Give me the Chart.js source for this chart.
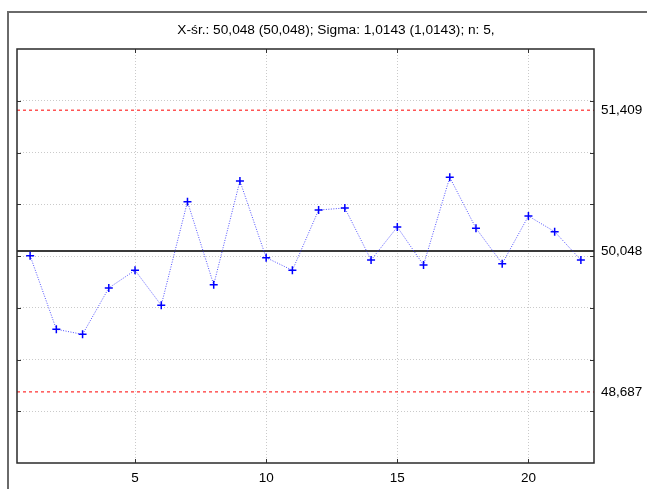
<!DOCTYPE html>
<html>
<head>
<meta charset="utf-8">
<script src="https://cdn.jsdelivr.net/npm/chart.js@4.4.1/dist/chart.umd.min.js"></script>
<style>
html,body{margin:0;padding:0;background:#fff;}
#wrap{width:647px;height:489px;position:relative;}
</style>
</head>
<body>
<div id="wrap"><canvas id="c" width="647" height="489"></canvas></div>
<script>
const titleText = "X-śr.: 50,048 (50,048); Sigma: 1,0143 (1,0143); n: 5,";
const samples = [1,2,3,4,5,6,7,8,9,10,11,12,13,14,15,16,17,18,19,20,21,22];
const means = [50.003,49.292,49.243,49.691,49.862,49.524,50.525,49.723,50.725,49.984,49.862,50.444,50.464,49.961,50.280,49.913,50.760,50.268,49.926,50.386,50.235,49.961];
const centerLine = 50.048;
const upperLimit = 51.409;
const lowerLimit = 48.687;
const xTicks = [5,10,15,20];
const yGrid = [48.5,49,49.5,50,50.5,51,51.5];
const limitLabels = [lowerLimit, centerLine, upperLimit];
const xRange = [0.5, 22.5];
const yRange = [48, 52];

const FONT = "'Liberation Sans', Arial, sans-serif";

const hLine = v => [{x:xRange[0], y:v},{x:xRange[1], y:v}];

const decor = {
  id:'decor',
  beforeDraw(chart){
    const ctx = chart.ctx;
    ctx.save();
    ctx.fillStyle='#fff';
    ctx.fillRect(0,0,chart.width,chart.height);
    ctx.strokeStyle='#6a6a6a';
    ctx.lineWidth=2;
    ctx.strokeRect(8,12,700,600);
    ctx.fillStyle='#000';
    ctx.font='13.7px '+FONT;
    ctx.textAlign='center';
    ctx.textBaseline='middle';
    ctx.fillText(titleText,336,30);
    ctx.restore();
  },
  afterDraw(chart){
    const ctx = chart.ctx, a = chart.chartArea;
    const xs = chart.scales.x, ys = chart.scales.y;
    ctx.save();
    ctx.strokeStyle='#333';
    ctx.lineWidth=1;
    ctx.beginPath();
    xTicks.forEach(v=>{
      const px = Math.round(xs.getPixelForValue(v))+0.5;
      ctx.moveTo(px,a.bottom); ctx.lineTo(px,a.bottom-4);
      ctx.moveTo(px,a.top); ctx.lineTo(px,a.top+4);
    });
    yGrid.forEach(v=>{
      const py = Math.round(ys.getPixelForValue(v))+0.5;
      ctx.moveTo(a.left,py); ctx.lineTo(a.left+4,py);
      ctx.moveTo(a.right,py); ctx.lineTo(a.right-4,py);
    });
    ctx.stroke();
    ctx.strokeStyle='#2a2a2a';
    ctx.lineWidth=1.5;
    ctx.strokeRect(a.left,a.top,a.right-a.left,a.bottom-a.top);
    ctx.restore();
  }
};

new Chart(document.getElementById('c'),{
  type:'line',
  data:{
    datasets:[
      {data:hLine(upperLimit), borderColor:'#ff0000', borderWidth:1, borderDash:[3,3], pointRadius:0, order:3},
      {data:hLine(lowerLimit), borderColor:'#ff0000', borderWidth:1, borderDash:[3,3], pointRadius:0, order:3},
      {data:hLine(centerLine), borderColor:'#3a3a3a', borderWidth:2, pointRadius:0, order:2},
      {data:samples.map((s,i)=>({x:s,y:means[i]})), borderColor:'rgba(40,40,255,0.8)', borderWidth:1, borderDash:[1,1.5],
       pointStyle:'cross', pointRadius:4, pointBorderWidth:1.5, pointBorderColor:'#0000ff', pointBackgroundColor:'#0000ff', tension:0, order:1}
    ]
  },
  options:{
    responsive:false,
    animation:false,
    events:[],
    layout:{padding:{top:49,left:0,right:0,bottom:0}},
    plugins:{legend:{display:false},tooltip:{enabled:false},title:{display:false}},
    scales:{
      x:{type:'linear', min:xRange[0], max:xRange[1],
         afterBuildTicks(s){ s.ticks = xTicks.map(v=>({value:v})); },
         afterFit(s){ s.height = 26; },
         grid:{color:'#cacaca', drawTicks:false, lineWidth:1},
         border:{display:false, dash:[1,2]},
         ticks:{color:'#000', font:{family:FONT,size:13.5}, padding:7, maxRotation:0, callback:v=>String(v)}
      },
      y:{type:'linear', position:'left', min:yRange[0], max:yRange[1],
         afterBuildTicks(s){ s.ticks = yGrid.map(v=>({value:v})); },
         afterFit(s){ s.width = 17; },
         grid:{color:'#cacaca', drawTicks:false, lineWidth:1},
         border:{display:false, dash:[1,2]},
         ticks:{display:false}
      },
      y2:{type:'linear', position:'right', min:yRange[0], max:yRange[1],
         afterBuildTicks(s){ s.ticks = limitLabels.map(v=>({value:v})); },
         afterFit(s){ s.width = 53; },
         grid:{display:false, drawTicks:false},
         border:{display:false},
         ticks:{color:'#000', font:{family:FONT,size:13.5}, padding:7,
                callback:v=>v.toFixed(3).replace('.',',')}
      }
    }
  },
  plugins:[decor]
});
</script>
</body>
</html>
